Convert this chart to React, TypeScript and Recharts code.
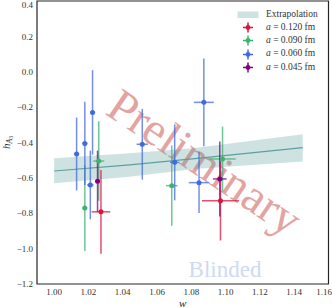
import { Area, ComposedChart, ErrorBar, Line, ReferenceArea, Scatter, XAxis, YAxis } from 'recharts';

const serif = '"Liberation Serif", "DejaVu Serif", serif';

// extrapolation band
const bandW = [1.0, 1.044, 1.082, 1.145];
const bandLo = [-0.63, -0.593, -0.55, -0.508];
const bandHi = [-0.489, -0.461, -0.431, -0.354];
const bandMid = [-0.561, -0.527, -0.491, -0.429];

// lattice points: w, value, x error, y error
const w120 = [1.0273, 1.097];
const v120 = [-0.792, -0.73];
const ex120 = [0.0054, 0.0108];
const ey120 = [0.237, 0.224];

const w090 = [1.0179, 1.026, 1.0686, 1.0982];
const v090 = [-0.771, -0.505, -0.644, -0.493];
const ex090 = [0.0014, 0.0032, 0.0034, 0.0077];
const ey090 = [0.243, 0.225, 0.227, 0.183];

const w060 = [1.0131, 1.0179, 1.0224, 1.0211, 1.0514, 1.0703, 1.0873, 1.0845];
const v060 = [-0.465, -0.405, -0.23, -0.64, -0.41, -0.512, -0.173, -0.627];
const ex060 = [0.0015, 0.0015, 0.0015, 0.0019, 0.0033, 0.0027, 0.0058, 0.006];
const ey060 = [0.206, 0.235, 0.239, 0.194, 0.2, 0.215, 0.248, 0.172];

const w045 = [1.0253, 1.0966];
const v045 = [-0.619, -0.606];
const ex045 = [0.001, 0.004];
const ey045 = [0.173, 0.212];

const xTicks = [1.0, 1.02, 1.04, 1.06, 1.08, 1.1, 1.12, 1.14, 1.16];
const yTicks = [-1.2, -1.0, -0.8, -0.6, -0.4, -0.2, 0.0, 0.2, 0.4];

const band = bandW.map((w, i) => ({ w, band: [bandLo[i], bandHi[i]], mid: bandMid[i] }));

const pts = (w: number[], v: number[], ex: number[], ey: number[]) =>
  w.map((x, i) => ({ w: x, v: v[i], ex: ex[i], ey: ey[i] }));

const series = [
  { name: '0.120', color: '#dc143c', data: pts(w120, v120, ex120, ey120) },
  { name: '0.090', color: '#3cb371', data: pts(w090, v090, ex090, ey090) },
  { name: '0.060', color: '#4169e1', data: pts(w060, v060, ex060, ey060) },
  { name: '0.045', color: '#800080', data: pts(w045, v045, ex045, ey045) },
];

function LegendBox() {
  return (
    <div style={{ fontFamily: serif, fontSize: 9.5, color: '#333', lineHeight: '13.3px' }}>
      <div style={{ display: 'flex', alignItems: 'center', height: 13.3 }}>
        <svg width={30} height={13}>
          <rect x={1.5} y={3.5} width={21} height={6.5} fill="#5f9ea0" fillOpacity={0.3} />
        </svg>
        <span>Extrapolation</span>
      </div>
      {series.map((s) => (
        <div key={s.name} style={{ display: 'flex', alignItems: 'center', height: 13.3 }}>
          <svg width={30} height={13}>
            <line x1={7} x2={17} y1={6.5} y2={6.5} stroke={s.color} strokeWidth={1.5} />
            <line x1={12} x2={12} y1={1.5} y2={11.5} stroke={s.color} strokeWidth={1.5} />
            <circle cx={12} cy={6.5} r={2.4} fill={s.color} />
          </svg>
          <span>
            <i>a</i> = {s.name} fm
          </span>
        </div>
      ))}
    </div>
  );
}

function YLabel(props: any) {
  const vb = props.viewBox || { x: 8, y: 1, height: 283 };
  const cx = vb.x + 1.5;
  const cy = vb.y + vb.height / 2;
  return (
    <text transform={`translate(${cx},${cy}) rotate(-90)`} textAnchor="middle" fontFamily={serif} fill="#262626" fontSize={11}>
      <tspan fontStyle="italic">h</tspan>
      <tspan fontStyle="italic" fontSize={7.5} dy={2}>A</tspan>
      <tspan fontSize={5.5} dy={1.5}>3</tspan>
    </text>
  );
}

export default function App() {
  return (
    <div style={{ position: 'absolute', left: 0, top: 0, width: 332, height: 308 }}>
      <svg width={332} height={308} style={{ position: 'absolute', left: 0, top: 0 }}>
        <text
          x={205}
          y={162}
          transform="rotate(34 205 162)"
          textAnchor="middle"
          dominantBaseline="central"
          fontFamily={serif}
          fontSize={47}
          fill="#e3a3a0"
        >
          Preliminary
        </text>
        <text x={225} y={277} textAnchor="middle" fontFamily={serif} fontSize={23} fill="#cdd9f5">
          Blinded
        </text>
      </svg>
      <div style={{ position: 'absolute', left: 0, top: 0 }}>
        <ComposedChart width={332} height={308} data={band} margin={{ top: 1, right: 3.5, bottom: 0, left: 8 }}>
          <XAxis
            dataKey="w"
            type="number"
            domain={[0.99, 1.16]}
            ticks={xTicks}
            allowDataOverflow
            height={24}
            axisLine={false}
            tickLine={false}
            tickSize={3}
            tickMargin={2}
            tickFormatter={(v: number) => v.toFixed(2)}
            tick={{ fontFamily: serif, fontSize: 9, fill: '#333' }}
            label={{ value: 'w', position: 'insideBottom', offset: 1, style: { fontFamily: serif, fontStyle: 'italic', fontSize: 11, fill: '#262626' } }}
          />
          <YAxis
            dataKey="v"
            type="number"
            domain={[-1.2, 0.4]}
            ticks={yTicks}
            allowDataOverflow
            width={29}
            axisLine={false}
            tickLine={false}
            tickSize={3}
            tickMargin={1}
            tickFormatter={(v: number) => (v < 0 ? '\u2212' : '') + Math.abs(v).toFixed(1)}
            tick={{ fontFamily: serif, fontSize: 9, fill: '#333' }}
            label={<YLabel />}
          />
          <Area dataKey="band" type="linear" stroke="none" fill="#5f9ea0" fillOpacity={0.3} isAnimationActive={false} />
          <Line dataKey="mid" type="linear" stroke="#5f9ea0" strokeWidth={1.2} dot={false} isAnimationActive={false} />
          {series.map((s) => (
            <Scatter
              key={s.name}
              data={s.data}
              fill={s.color}
              isAnimationActive={false}
              shape={(p: any) => <circle cx={p.cx} cy={p.cy} r={2.5} fill={s.color} />}
            >
              <ErrorBar dataKey="ey" direction="y" width={0} stroke={s.color} strokeWidth={1.5} strokeOpacity={0.75} />
              <ErrorBar dataKey="ex" direction="x" width={0} stroke={s.color} strokeWidth={1.5} strokeOpacity={0.75} />
            </Scatter>
          ))}
          <ReferenceArea x1={0.99} x2={1.16} y1={-1.2} y2={0.4} fill="none" stroke="#262626" strokeWidth={1.2} />
        </ComposedChart>
      </div>
      <div style={{ position: 'absolute', left: 236, top: 7.5 }}>
        <LegendBox />
      </div>
    </div>
  );
}
